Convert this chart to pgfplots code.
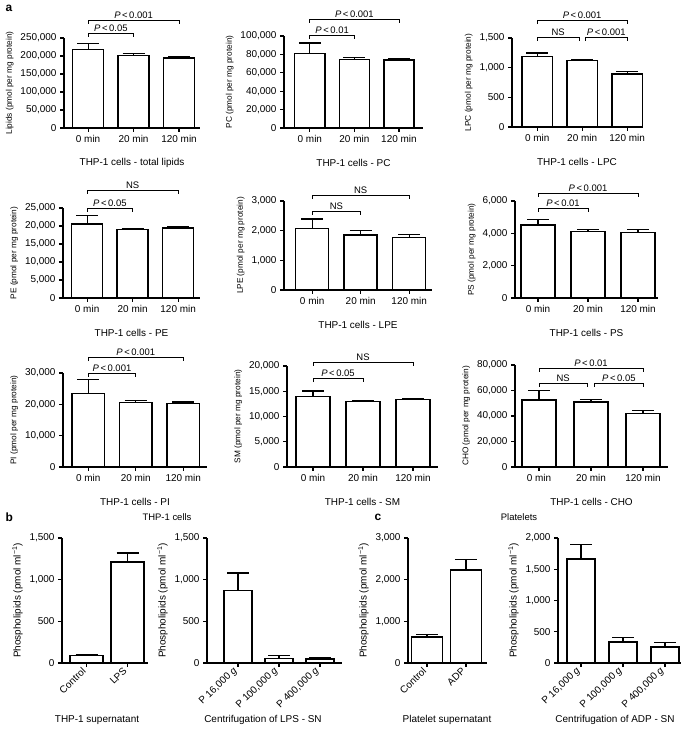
\documentclass[border=0pt]{standalone}
\usepackage{pgfplots}
\pgfplotsset{compat=1.18}
\usepackage{fontspec}
\setmainfont{Liberation Sans}
\newcommand{\tk}{\fontsize{10}{12}\selectfont}
\newcommand{\sm}{\fontsize{9.5}{11}\selectfont}
\pgfplotsset{
  prism/.style={
    scale only axis,
    axis lines*=left,
    axis line style={line width=1.4pt},
    every tick/.style={black, line width=1.2pt},
    tick align=outside,
    major tick length=4bp,
    ymin=0,
    clip=false,
    tick label style={font=\tk},
    /pgf/number format/assume math mode=true,
    /pgf/number format/fixed,
    /pgf/number format/precision=0,
    /pgf/number format/1000 sep={,},
    scaled y ticks=false,
    ylabel style={font=\fontsize{8.3}{10}\selectfont},
    every axis x label/.style={at={(axis description cs:0.5,0)}, anchor=center, yshift=-35bp, font=\tk},
  },
  pa/.style={prism, xtick={0,1,2}, xticklabels={0 min,20 min,120 min}},
  pb/.style={prism, ylabel style={font=\tk}, xticklabel style={rotate=44, anchor=east}},
  bars/.style={ybar, bar width=#1, fill=white, draw=black, line width=1.5pt,
    /pgfplots/error bars/y dir=plus, /pgfplots/error bars/y explicit,
    /pgfplots/error bars/error bar style={line width=1.2pt, black},
    /pgfplots/error bars/error mark options={rotate=90, line width=1.2pt, mark size=11bp, black}},
}
\newcommand{\brk}[4]{%
  \draw[line width=0.7pt] ([yshift=-4bp]axis cs:#1,#3) -- (axis cs:#1,#3) -- node[above, inner sep=1.5bp, font=\sm] {#4} (axis cs:#2,#3) -- ([yshift=-4bp]axis cs:#2,#3);}
\newcommand{\pp}[1]{\textit{P}\,<\,#1}
\begin{document}
\begin{tikzpicture}
\path[use as bounding box] (0,0) rectangle (685bp,731bp);
\node[anchor=west, font=\fontsize{12}{14}\selectfont\bfseries] at (2bp,723bp) {a};
% P1
\begin{axis}[pa, at={(64bp,603bp)}, anchor=south west, width=136bp, height=90bp,
  xmin=-0.53, xmax=2.46, ymax=250000, ytick={0,50000,100000,150000,200000,250000},
  ylabel={Lipids (pmol per mg protein)}, xlabel={THP-1 cells - total lipids}]
\addplot[bars=0.68] coordinates {(0,218600) +- (0,16700) (1,201900) +- (0,5600) (2,194400) +- (0,2800)};
\brk{0}{1}{263900}{\pp{0.05}}
\brk{0}{2}{300000}{\pp{0.001}}
\end{axis}
% P2
\begin{axis}[pa, at={(284bp,603bp)}, anchor=south west, width=139bp, height=92bp,
  xmin=-0.58, xmax=2.54, ymax=100000, ytick={0,20000,40000,60000,80000,100000},
  ylabel={PC (pmol per mg protein)}, xlabel={THP-1 cells - PC}]
\addplot[bars=0.68] coordinates {(0,80900) +- (0,11500) (1,74400) +- (0,2200) (2,73700) +- (0,2100)};
\brk{0}{1}{101000}{\pp{0.01}}
\brk{0}{2}{118500}{\pp{0.001}}
\end{axis}
% P3
\begin{axis}[pa, at={(512bp,604bp)}, anchor=south west, width=130bp, height=89bp,
  xmin=-0.56, xmax=2.33, ymax=1500, ytick={0,500,1000,1500},
  ylabel={LPC (pmol per mg protein)}, xlabel={THP-1 cells - LPC}]
\addplot[bars=0.68] coordinates {(0,1189) +- (0,57) (1,1121) +- (0,23) (2,890) +- (0,39)};
\brk{0}{0.93}{1517}{NS}
\brk{1.07}{2}{1517}{\pp{0.001}}
\brk{0}{2}{1803}{\pp{0.001}}
\end{axis}
% P4
\begin{axis}[pa, at={(63bp,433bp)}, anchor=south west, width=137bp, height=90bp,
  xmin=-0.53, xmax=2.48, ymax=25000, ytick={0,5000,10000,15000,20000,25000},
  ylabel={PE (pmol per mg protein)}, xlabel={THP-1 cells - PE}]
\addplot[bars=0.68] coordinates {(0,20560) +- (0,2390) (1,18970) +- (0,180) (2,19440) +- (0,280)};
\brk{0}{1}{25000}{\pp{0.05}}
\brk{0}{2}{30000}{NS}
\end{axis}
% P5
\begin{axis}[pa, at={(284bp,441bp)}, anchor=south west, width=148bp, height=89bp,
  xmin=-0.58, xmax=2.47, ymax=3000, ytick={0,1000,2000,3000},
  ylabel={LPE (pmol per mg protein)}, xlabel={THP-1 cells - LPE}]
\addplot[bars=0.68] coordinates {(0,2070) +- (0,320) (1,1860) +- (0,140) (2,1770) +- (0,90)};
\brk{0}{1}{2663}{NS}
\brk{0}{2}{3202}{NS}
\end{axis}
% P6
\begin{axis}[pa, at={(515bp,433bp)}, anchor=south west, width=143bp, height=97bp,
  xmin=-0.46, xmax=2.4, ymax=6000, ytick={0,2000,4000,6000},
  ylabel={PS (pmol per mg protein)}, xlabel={THP-1 cells - PS}]
\addplot[bars=0.68] coordinates {(0,4510) +- (0,350) (1,4100) +- (0,150) (2,4060) +- (0,170)};
\brk{0}{1}{5567}{\pp{0.01}}
\brk{0}{2}{6495}{\pp{0.001}}
\end{axis}
% P7
\begin{axis}[pa, at={(63bp,264bp)}, anchor=south west, width=144bp, height=94bp,
  xmin=-0.53, xmax=2.5, ymax=30000, ytick={0,10000,20000,30000},
  ylabel={PI (pmol per mg protein)}, xlabel={THP-1 cells - PI}]
\addplot[bars=0.68] coordinates {(0,23430) +- (0,4610) (1,20540) +- (0,640) (2,20220) +- (0,530)};
\brk{0}{1}{30000}{\pp{0.001}}
\brk{0}{2}{35100}{\pp{0.001}}
\end{axis}
% P8
\begin{axis}[pa, at={(287bp,264bp)}, anchor=south west, width=151bp, height=101bp,
  xmin=-0.52, xmax=2.5, ymax=20000, ytick={0,5000,10000,15000,20000},
  ylabel={SM (pmol per mg protein)}, xlabel={THP-1 cells - SM}]
\addplot[bars=0.68] coordinates {(0,14000) +- (0,1050) (1,13000) +- (0,200) (2,13330) +- (0,270)};
\brk{0}{1}{17620}{\pp{0.05}}
\brk{0}{2}{20800}{NS}
\end{axis}
% P9
\begin{axis}[pa, at={(515bp,264bp)}, anchor=south west, width=153bp, height=102bp,
  xmin=-0.46, xmax=2.48, ymax=80000, ytick={0,20000,40000,60000,80000},
  ylabel={CHO (pmol per mg protein)}, xlabel={THP-1 cells - CHO}]
\addplot[bars=0.66] coordinates {(0,52650) +- (0,7100) (1,50800) +- (0,2100) (2,42100) +- (0,1900)};
\brk{0}{0.93}{65900}{NS}
\brk{1.07}{2}{65900}{\pp{0.05}}
\brk{0}{2}{77650}{\pp{0.01}}
\end{axis}
% b and c
\node[anchor=west, font=\fontsize{12}{14}\selectfont\bfseries] at (2bp,214bp) {b};
\node[anchor=west, font=\fontsize{12}{14}\selectfont\bfseries] at (371bp,214bp) {c};
\node[font=\sm] at (167bp,214bp) {THP-1 cells};
\node[font=\sm] at (519bp,214bp) {Platelets};
\node[font=\tk] at (97bp,11bp) {THP-1 supernatant};
\node[font=\tk] at (263bp,11bp) {Centrifugation of LPS - SN};
\node[font=\tk] at (447bp,11bp) {Platelet supernatant};
\node[font=\tk] at (615bp,11bp) {Centrifugation of ADP - SN};
\begin{axis}[pb, at={(62bp,68bp)}, anchor=south west, width=86bp, height=125bp,
  xmin=-0.6, xmax=1.5, ymax=1500, ytick={0,500,1000,1500},
  xtick={0,1}, xticklabels={Control,LPS},
  ylabel={Phospholipids (pmol ml\textsuperscript{−1})}]
\addplot[bars=0.8] coordinates {(0,92) +- (0,8) (1,1212) +- (0,108)};
\end{axis}
\begin{axis}[pb, at={(207bp,68bp)}, anchor=south west, width=135bp, height=125bp,
  xmin=-0.76, xmax=2.54, ymax=1500, ytick={0,500,1000,1500},
  xtick={0,1,2}, xticklabels={{P 16,000 \textit{g}},{P 100,000 \textit{g}},{P 400,000 \textit{g}}},
  ylabel={Phospholipids (pmol ml\textsuperscript{−1})}]
\addplot[bars=0.69] coordinates {(0,868) +- (0,212) (1,56) +- (0,32) (2,48) +- (0,12)};
\end{axis}
\begin{axis}[pb, at={(408bp,68bp)}, anchor=south west, width=79bp, height=125bp,
  xmin=-0.49, xmax=1.54, ymax=3000, ytick={0,1000,2000,3000},
  xtick={0,1}, xticklabels={Control,ADP},
  ylabel={Phospholipids (pmol ml\textsuperscript{−1})}]
\addplot[bars=0.8] coordinates {(0,627) +- (0,65) (1,2236) +- (0,242)};
\end{axis}
\begin{axis}[pb, at={(558bp,68bp)}, anchor=south west, width=123bp, height=125bp,
  xmin=-0.55, xmax=2.38, ymax=2000, ytick={0,500,1000,1500,2000},
  xtick={0,1,2}, xticklabels={{P 16,000 \textit{g}},{P 100,000 \textit{g}},{P 400,000 \textit{g}}},
  ylabel={Phospholipids (pmol ml\textsuperscript{−1})}]
\addplot[bars=0.67] coordinates {(0,1662) +- (0,231) (1,338) +- (0,64) (2,257) +- (0,65)};
\end{axis}
\end{tikzpicture}
\end{document}
